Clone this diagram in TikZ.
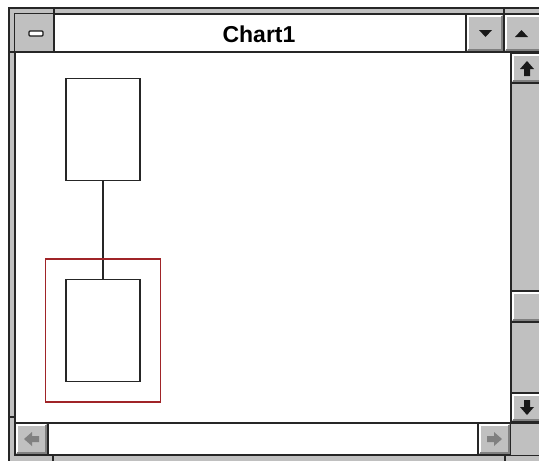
\documentclass[tikz,border=0pt]{standalone}
\usepackage{fontspec}
\setmainfont{Liberation Sans}
\usepackage{tikz}
\definecolor{wingray}{RGB}{192,192,192}
\definecolor{windark}{RGB}{128,128,128}
\definecolor{selred}{RGB}{160,36,40}

\tikzset{
	winline/.style={draw=black!85,line width=1.4pt},
	chartbox/.style={draw=black!85,line width=1.6pt,fill=white,minimum width=74pt,minimum height=102pt,inner sep=0pt},
	selbox/.style={draw=selred,line width=1.2pt,minimum width=115pt,minimum height=143pt,inner sep=0pt},
	glyph/.style={fill=black!90},
	offglyph/.style={fill=windark}
}

% 3d button: x1 y1 x2 y2
\newcommand{\winbtn}[4]{
	\fill[wingray] (#1,#2) rectangle (#3,#4);
	\draw[white,line width=1.6pt] (#1+2,#4-2) -- (#1+2,#2+2) -- (#3-2,#2+2);
	\draw[windark,line width=1.6pt] (#1+2,#4-2) -- (#3-2,#4-2) -- (#3-2,#2+2);
	\draw[winline] (#1,#2) rectangle (#3,#4);
}

\begin{document}
\begin{tikzpicture}
	[x=1pt,y=-1pt]
	\useasboundingbox (0,0) rectangle (539,461);
	\clip (0,0) rectangle (539,461);
	\fill[white] (0,0) rectangle (539,461);
	% frame
	\fill[wingray] (9,8) rectangle (560,470);
	\draw[winline] (9,8) rectangle (560,470);
	\fill[white] (15,14) rectangle (550,455);
	\draw[winline] (15,14) rectangle (550,455);
	\foreach \x in {54,504} {
		\draw[winline] (\x,8) -- (\x,14);
	}
	\foreach \x in {53,505} {
		\draw[winline] (\x,455) -- (\x,470);
	}
	\foreach \y in {52,417} {
		\draw[winline] (9,\y) -- (15,\y);
	}
	% title bar
	\fill[wingray] (15,14) rectangle (54,52);
	\draw[winline] (15,52) -- (550,52);
	\draw[winline] (54,14) -- (54,52);
	\draw[fill=white,draw=black!90,line width=1.3pt,rounded corners=1pt] (29,31) rectangle (43,36);
	\node[font=\bfseries\fontsize{23}{23}\selectfont] (title) at (259,34) {Chart1};
	\winbtn{466}{14}{504}{52}
	\winbtn{504}{14}{550}{52}
	\fill[glyph] (479,30) -- (492,30) -- (485.5,37) -- cycle;
	\fill[glyph] (515,37) -- (528,37) -- (521.5,30) -- cycle;
	% vertical scrollbar
	\fill[wingray] (511,52) rectangle (550,422);
	\draw[winline] (511,52) -- (511,455);
	\winbtn{511}{53}{550}{83}
	\winbtn{511}{291}{550}{322}
	\winbtn{511}{393}{550}{422}
	\fill[glyph] (527,61) -- (534,69) -- (530,69) -- (530,76) -- (524,76) -- (524,69) -- (520,69) -- cycle;
	\fill[glyph] (527,415) -- (534,407) -- (530,407) -- (530,400) -- (524,400) -- (524,407) -- (520,407) -- cycle;
	% horizontal scrollbar
	\draw[winline] (15,423) -- (511,423);
	\winbtn{15}{423}{48}{455}
	\winbtn{478}{423}{511}{455}
	\fill[wingray] (511,423) rectangle (550,455);
	\draw[winline] (511,423) -- (550,423);
	\fill[offglyph] (24,439) -- (32,432) -- (32,436) -- (39,436) -- (39,442) -- (32,442) -- (32,446) -- cycle;
	\fill[offglyph] (502,439) -- (494,432) -- (494,436) -- (487,436) -- (487,442) -- (494,442) -- (494,446) -- cycle;
	% chart
	\node[chartbox] (boss) at (103,129.5) {};
	\node[chartbox] (sub) at (103,330.5) {};
	\draw[black!85,line width=1.6pt] (boss.south) -- (sub.north);
	\node[selbox] (sel) at (sub.center) {};
\end{tikzpicture}
\end{document}
